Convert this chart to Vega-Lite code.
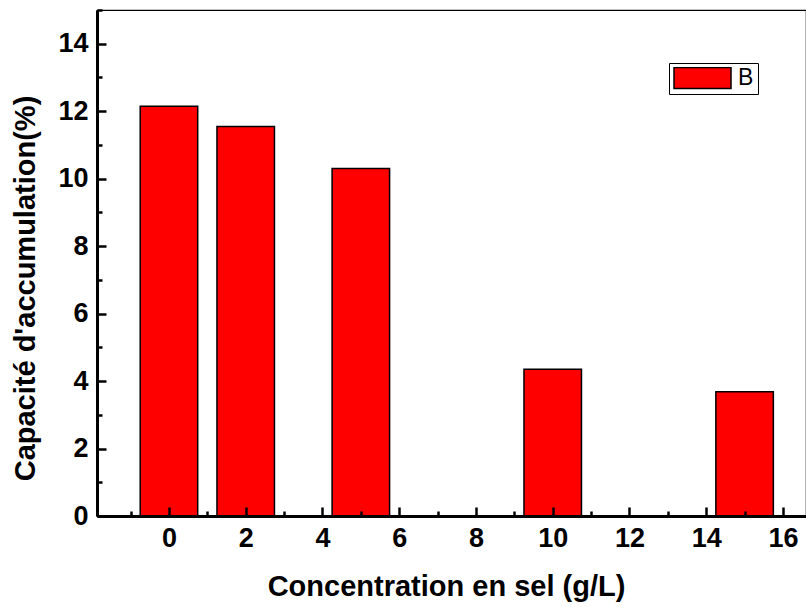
{
  "$schema": "https://vega.github.io/schema/vega-lite/v6.json",
  "width": 709,
  "height": 506,
  "autosize": {"type": "none"},
  "padding": {"left": 97, "top": 10, "right": 0, "bottom": 91},
  "background": "white",
  "config": {
    "view": {"stroke": "black", "strokeWidth": 1.2},
    "font": "Liberation Sans"
  },
  "data": {
    "values": [
      {"conc": 0, "capacite": 12.15, "serie": "B"},
      {"conc": 2, "capacite": 11.55, "serie": "B"},
      {"conc": 5, "capacite": 10.3, "serie": "B"},
      {"conc": 10, "capacite": 4.35, "serie": "B"},
      {"conc": 15, "capacite": 3.68, "serie": "B"}
    ]
  },
  "resolve": {"axis": {"x": "independent", "y": "independent"}},
  "layer": [
    {
      "mark": {"type": "bar", "size": 57.5, "stroke": "black", "strokeWidth": 1.5, "clip": true},
      "encoding": {
        "x": {
          "field": "conc",
          "type": "quantitative",
          "scale": {"domain": [-1.875, 16.6], "nice": false, "zero": false, "padding": 0},
          "axis": {
            "orient": "bottom",
            "title": "Concentration en sel (g/L)",
            "titleX": 349,
            "values": [0, 2, 4, 6, 8, 10, 12, 14, 16],
            "grid": false,
            "domainColor": "black",
            "domainWidth": 3,
            "tickColor": "black",
            "tickSize": -9,
            "tickWidth": 2.5,
            "labelFont": "Liberation Sans",
            "labelFontWeight": "bold",
            "labelFontSize": 27,
            "labelColor": "black",
            "labelPadding": 18,
            "labelFlush": false,
            "labelOverlap": false,
            "titleFont": "Liberation Sans",
            "titleFontWeight": "bold",
            "titleFontSize": 29,
            "titleColor": "black",
            "titlePadding": 21,
            "zindex": 1
          }
        },
        "y": {
          "field": "capacite",
          "type": "quantitative",
          "scale": {"domain": [0, 15], "nice": false, "padding": 0},
          "axis": {
            "orient": "left",
            "title": "Capacité d'accumulation(%)",
            "titleY": 278,
            "values": [0, 2, 4, 6, 8, 10, 12, 14],
            "grid": false,
            "domainColor": "black",
            "domainWidth": 3,
            "tickColor": "black",
            "tickSize": -9,
            "tickWidth": 2.5,
            "labelFont": "Liberation Sans",
            "labelFontWeight": "bold",
            "labelFontSize": 27,
            "labelColor": "black",
            "labelPadding": 18,
            "labelFlush": false,
            "labelOverlap": false,
            "titleFont": "Liberation Sans",
            "titleFontWeight": "bold",
            "titleFontSize": 29,
            "titleColor": "black",
            "titlePadding": 17,
            "zindex": 1
          }
        },
        "color": {
          "field": "serie",
          "type": "nominal",
          "scale": {"range": ["#ff0000"]},
          "legend": {
            "title": null,
            "orient": "none",
            "legendX": 572,
            "legendY": 53,
            "strokeColor": "black",
            "fillColor": "white",
            "padding": 4,
            "symbolType": "M-1,-0.37L1,-0.37L1,0.37L-1,0.37Z",
            "symbolSize": 3249,
            "clipHeight": 22,
            "symbolStrokeColor": "black",
            "symbolStrokeWidth": 1.5,
            "symbolOpacity": 1,
            "labelFont": "Liberation Sans",
            "labelFontSize": 23,
            "labelColor": "black",
            "labelOffset": 6
          }
        }
      }
    },
    {
      "mark": {"type": "point", "opacity": 0},
      "encoding": {
        "x": {
          "field": "conc",
          "type": "quantitative",
          "scale": {"domain": [-1.875, 16.6], "nice": false, "zero": false, "padding": 0},
          "axis": {
            "orient": "bottom",
            "title": null,
            "values": [-1, 1, 3, 5, 7, 9, 11, 13, 15],
            "labels": false,
            "domain": false,
            "grid": false,
            "tickColor": "black",
            "tickSize": -5,
            "tickWidth": 2.5,
            "zindex": 1
          }
        },
        "y": {
          "field": "capacite",
          "type": "quantitative",
          "scale": {"domain": [0, 15], "nice": false, "padding": 0},
          "axis": {
            "orient": "left",
            "title": null,
            "values": [1, 3, 5, 7, 9, 11, 13, 15],
            "labels": false,
            "domain": false,
            "grid": false,
            "tickColor": "black",
            "tickSize": -5,
            "tickWidth": 2.5,
            "zindex": 1
          }
        }
      }
    }
  ]
}
